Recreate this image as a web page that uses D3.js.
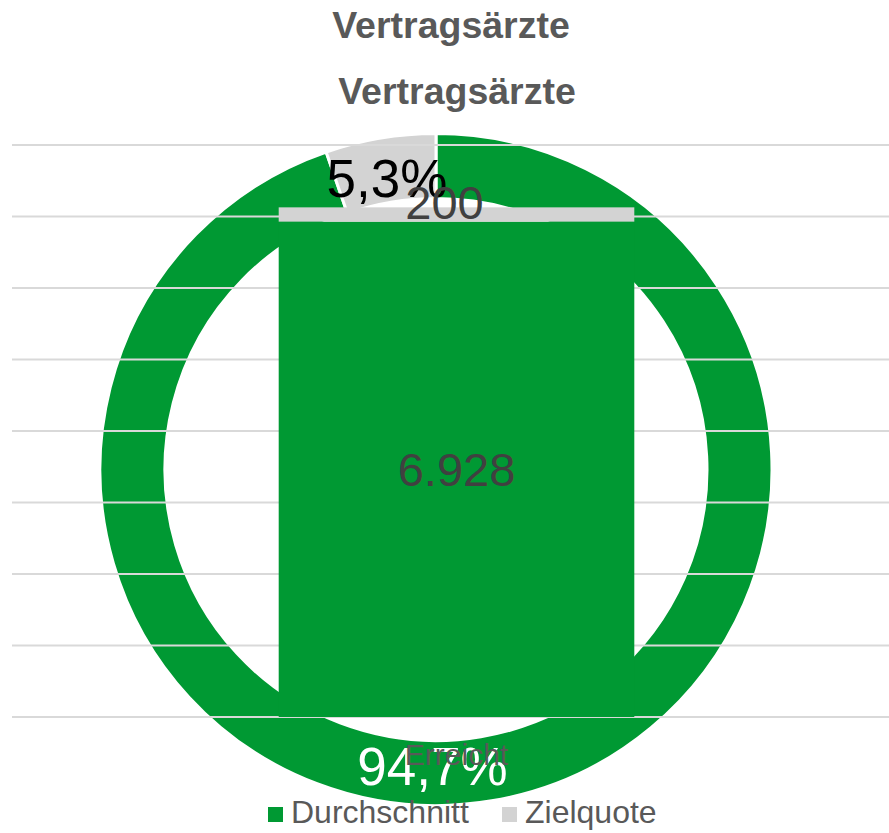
<!DOCTYPE html>
<html>
<head>
<meta charset="utf-8">
<script src="https://cdn.jsdelivr.net/npm/d3@7"></script>
<style>
  html, body { margin: 0; padding: 0; background: #fff; }
  svg { display: block; font-family: 'Liberation Sans', Arial, sans-serif; }
</style>
</head>
<body>
<svg width="889" height="833"></svg>
<script>
// Data
const titles = ['Vertragsärzte', 'Vertragsärzte'];
const seriesNames = ['Durchschnitt', 'Zielquote'];
const seriesColors = ['#009933', '#d3d3d3'];
const donutShares = [94.7, 5.3];
const categories = ['Erreicht'];
const barValues = [6928, 200];
const yTicks = [0, 1000, 2000, 3000, 4000, 5000, 6000, 7000, 8000];

// Style values
const titleColor = '#595959';
const labelColor = '#404040';
const gridColor = '#d9d9d9';

const svg = d3.select('svg');

// Titles
svg.selectAll('.title')
  .data(titles)
  .enter()
  .append('text')
  .attr('class', 'title')
  .attr('x', (d, i) => (i === 0 ? 451 : 457))
  .attr('y', (d, i) => (i === 0 ? 38 : 104))
  .attr('text-anchor', 'middle')
  .attr('font-size', '37.5px')
  .attr('font-weight', 'bold')
  .style('fill', titleColor)
  .text((d) => d);

// Donut (drawn underneath)
const cx = 436, cy = 469.5;
const outerR = 336, innerR = 271;
const pie = d3.pie().sort(null).value((d) => d);
const arc = d3.arc().innerRadius(innerR).outerRadius(outerR);
const donut = svg.append('g').attr('transform', `translate(${cx},${cy})`);
const arcs = pie(donutShares);

donut.selectAll('path')
  .data(arcs)
  .enter()
  .append('path')
  .attr('d', arc)
  .attr('fill', (d, i) => seriesColors[i])
  .attr('stroke', '#fff')
  .attr('stroke-width', 3);

// Column chart scales
const x = d3.scaleBand()
  .domain(categories)
  .range([12, 901])
  .paddingInner(0.6)
  .paddingOuter(0.3);
const y = d3.scaleLinear().domain([0, 8000]).range([717, 145]);

// Gridlines
svg.append('g')
  .selectAll('line')
  .data(yTicks)
  .enter()
  .append('line')
  .attr('x1', 12)
  .attr('x2', 889)
  .attr('y1', (d) => y(d))
  .attr('y2', (d) => y(d))
  .attr('stroke', gridColor)
  .attr('stroke-width', 2);

// Stacked bar
const stacked = [];
let acc = 0;
barValues.forEach((v, i) => {
  stacked.push({ key: seriesNames[i], y0: acc, y1: acc + v, value: v, i });
  acc += v;
});

svg.append('g')
  .selectAll('rect')
  .data(stacked)
  .enter()
  .append('rect')
  .attr('x', x(categories[0]))
  .attr('width', x.bandwidth())
  .attr('y', (d) => y(d.y1))
  .attr('height', (d) => y(d.y0) - y(d.y1))
  .attr('fill', (d) => seriesColors[d.i]);

// Bar labels
const fmt = d3.formatLocale({ decimal: ',', thousands: '.', grouping: [3], currency: ['', ' €'] }).format(',d');
svg.append('g')
  .selectAll('text')
  .data(stacked)
  .enter()
  .append('text')
  .attr('x', (d) => x(categories[0]) + x.bandwidth() / 2 - (d.i === 1 ? 12 : 0))
  .attr('y', (d) => (y(d.y0) + y(d.y1)) / 2 - (d.i === 1 ? 12 : 0))
  .attr('dy', '0.36em')
  .attr('text-anchor', 'middle')
  .attr('font-size', '47px')
  .style('fill', labelColor)
  .text((d) => fmt(d.value));

// Category label
svg.append('text')
  .attr('x', x(categories[0]) + x.bandwidth() / 2)
  .attr('y', 765)
  .attr('text-anchor', 'middle')
  .attr('font-size', '30px')
  .style('fill', titleColor)
  .text(categories[0]);

// Donut labels
const labelR = 296;
donut.selectAll('text')
  .data(arcs)
  .enter()
  .append('text')
  .attr('transform', (d, i) => {
    const a = i === 0 ? Math.PI + 0.012 : (d.startAngle + d.endAngle) / 2;
    return `translate(${labelR * Math.sin(a)},${-labelR * Math.cos(a)})`;
  })
  .attr('dy', '0.36em')
  .attr('text-anchor', 'middle')
  .attr('font-size', '53px')
  .style('fill', (d, i) => (i === 0 ? '#fff' : '#000'))
  .text((d) => d3.format('.1f')(d.data).replace('.', ',') + '%');

// Legend
const legend = svg.append('g').attr('transform', 'translate(268,823)');
const legendX = [0, 234];
const items = legend.selectAll('g')
  .data(seriesNames)
  .enter()
  .append('g')
  .attr('transform', (d, i) => `translate(${legendX[i]},0)`);
items.append('rect')
  .attr('x', 0)
  .attr('y', -16)
  .attr('width', 15)
  .attr('height', 15)
  .attr('fill', (d, i) => seriesColors[i]);
items.append('text')
  .attr('x', 23)
  .attr('y', 0)
  .attr('font-size', '32px')
  .style('fill', titleColor)
  .text((d) => d);
</script>
</body>
</html>
